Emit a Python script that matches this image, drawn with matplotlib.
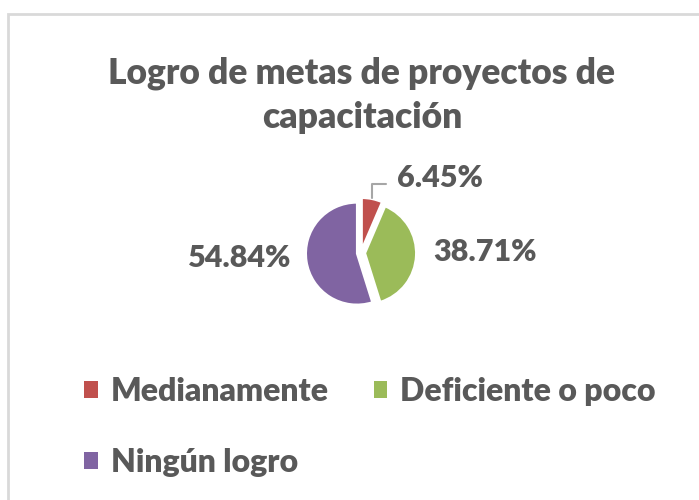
import matplotlib.pyplot as plt
from matplotlib.patches import Rectangle, Patch

# datos del gráfico
categorias = ['Medianamente', 'Deficiente o poco', 'Ningún logro']
porcentajes = [6.45, 38.71, 54.84]
colores = ['#C0504D', '#9BBB59', '#8064A2']
titulo = 'Logro de metas de proyectos de\ncapacitación'

GRIS = '#595959'
FUENTE = ['Lato', 'DejaVu Sans']
PESO = 'heavy'

W, H = 699, 500
fig = plt.figure(figsize=(W / 100, H / 100), dpi=100)

# marco del área del gráfico (se sale por la derecha y por abajo)
fig.patches.append(Rectangle((8 / W, -0.1), 1.1, (H - 14) / H + 0.1,
                             transform=fig.transFigure, fill=False,
                             edgecolor='#D9D9D9', linewidth=2))

fig.text(362 / W, 1 - 95 / H, titulo, ha='center', va='center',
         fontsize=25.5, fontweight=PESO, color=GRIS, family=FUENTE,
         linespacing=1.4)

# eje del pastel: centro (361, 253) px, radio ~51 px
R = 51
lim = 1.2
size = 2 * lim * R
ax = fig.add_axes([(361 - size / 2) / W, (H - 253 - size / 2) / H, size / W, size / H])
wedges, _ = ax.pie(porcentajes, colors=colores, startangle=90, counterclock=False,
                   explode=[0.08, 0.08, 0.08], radius=1,
                   wedgeprops=dict(edgecolor='white', linewidth=1.5))
ax.set_xlim(-lim, lim)
ax.set_ylim(-lim, lim)
ax.set_aspect('equal')
ax.axis('off')

# etiquetas de porcentaje
pos_etiquetas = [(1.55, 1.47), (2.43, 0.02), (-2.37, -0.1)]
for val, (tx, ty) in zip(porcentajes, pos_etiquetas):
    ax.text(tx, ty, f'{val:.2f}%', ha='center', va='center', fontsize=22,
            fontweight=PESO, color=GRIS, family=FUENTE, clip_on=False)

# línea guía para la etiqueta pequeña
ax.annotate('', xy=(0.22, 1.03), xytext=(0.55, 1.35),
            arrowprops=dict(arrowstyle='-', color='#A6A6A6', lw=1.5,
                            connectionstyle='angle,angleA=0,angleB=90,rad=0'),
            annotation_clip=False)

# leyenda en orden de filas
handles = [Patch(facecolor=c, edgecolor='none') for c in colores]
orden = [0, 2, 1]
leg = fig.legend([handles[i] for i in orden], [categorias[i] for i in orden],
                 ncol=2, loc='center', bbox_to_anchor=(370 / W, 1 - 427 / H),
                 frameon=False, handlelength=0.43, handleheight=0.43,
                 handletextpad=0.4, columnspacing=1.4, labelspacing=1.3,
                 borderpad=0, prop=dict(family=FUENTE, weight=PESO, size=23))
for t in leg.get_texts():
    t.set_color(GRIS)

fig.savefig('out.png', dpi=100)
